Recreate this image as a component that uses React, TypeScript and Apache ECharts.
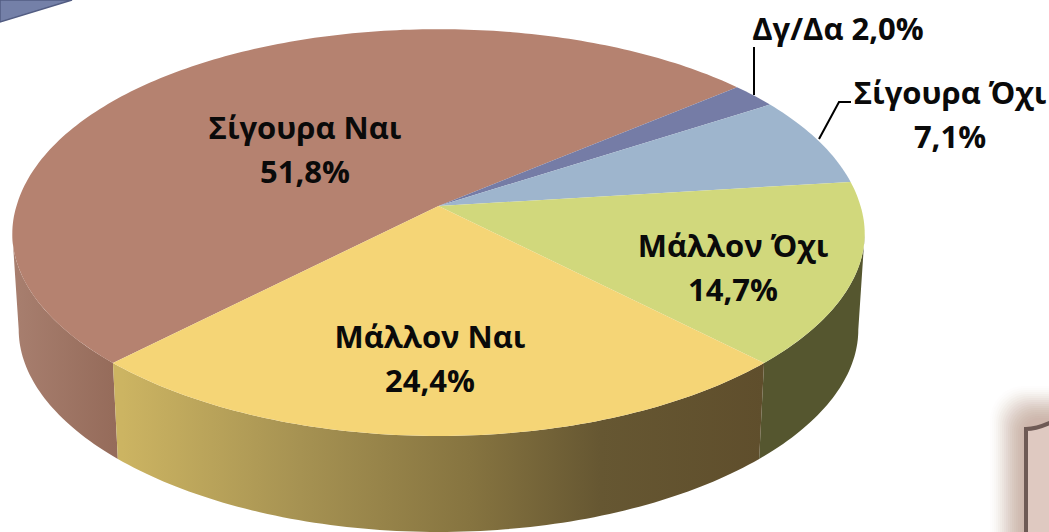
import React, { useEffect, useRef } from "react";
import * as echarts from "echarts";

const categories = ["Σίγουρα Ναι", "Δγ/Δα", "Σίγουρα Όχι", "Μάλλον Όχι", "Μάλλον Ναι"];
const values = [51.8, 2.0, 7.1, 14.7, 24.4];
const valueLabels = ["51,8%", "2,0%", "7,1%", "14,7%", "24,4%"];
const topColors = ["#B58270", "#757CA6", "#9EB5CD", "#D1D87C", "#F5D576"];

// Layout of the perspective disc
const CX = 438.5, CY = 206, A = 422, NEAR_B = 192, FAR_B = 206, KX = 0.14, KY = 0.165, DEPTH = 96, BOTTOM_SCALE = 0.985;
const W = 1049, H = 532;
const START_DEG = 43.92;
const VISIBLE_FROM = 360 - (Math.acos(KX) * 180) / Math.PI;
const VISIBLE_TO = 360 + (Math.acos(KX) * 180) / Math.PI;

const project = (deg: number) => {
  const r = (deg * Math.PI) / 180;
  const u = -Math.sin(r), v = Math.cos(r);
  return [CX + (A * u) / (1 - KX * v), CY + ((v < 0 ? FAR_B : NEAR_B) * v) / (1 - KY * v)];
};
const arcPoints = (a0: number, a1: number) => {
  const n = Math.max(2, Math.ceil(Math.abs(a1 - a0)));
  const pts: number[][] = [];
  for (let i = 0; i <= n; i++) pts.push(project(a0 + ((a1 - a0) * i) / n));
  return pts;
};
const hStops = (stops: [number, string][]) => ({
  type: "linear", x: 0, y: 0, x2: W, y2: 0, global: true,
  colorStops: stops.map(([x, color]) => ({ offset: x / W, color })),
});
const sideColors = [
  hStops([[12, "#A87F6F"], [122, "#946A59"]]),
  "#50556F",
  "#5B6B7C",
  "#55562F",
  hStops([[122, "#CCB462"], [300, "#A69252"], [470, "#867440"], [600, "#665732"], [765, "#5F4E2C"]]),
];
const labelLayout = [
  { x: 305, y: 126.5, two: true },
  { x: 838, y: 28, two: false },
  { x: 950, y: 91.5, two: true },
  { x: 733, y: 244.5, two: true },
  { x: 430, y: 335.5, two: true },
];
const FONT = "'Open Sans', 'Noto Sans', sans-serif";
const BOX_SHADOW_STEPS = Array.from({ length: 17 }, (_, i) => i);

const sliceAngles = () => {
  const total = values.reduce((a, b) => a + b, 0);
  let a = START_DEG;
  return values.map((v) => {
    const s = a;
    a += (v / total) * 360;
    return [s, a];
  });
};

const visibleRange = (a0: number, a1: number) => {
  for (const shift of [0, 360]) {
    const s = Math.max(a0 + shift, VISIBLE_FROM);
    const e = Math.min(a1 + shift, VISIBLE_TO);
    if (e > s) return [s, e];
  }
  return null;
};

echarts.graphic.registerShape(
  "cornerBox",
  echarts.graphic.extendPath("M1026 429 C1033 429 1042 427 1056 420 L1056 545 L1026 545 Z", {})
);

export default function App() {
  const ref = useRef<HTMLDivElement>(null);
  useEffect(() => {
    const chart = echarts.init(ref.current!, undefined, { renderer: "svg" });
    const angles = sliceAngles();
    const sideItem = (_p: any, api: any) => {
      const i = api.value(0);
      const range = visibleRange(angles[i][0], angles[i][1]);
      if (!range) return { type: "group", children: [] };
      const top = arcPoints(range[0], range[1]);
      const bottom = top
        .map(([x, y]) => [CX + (x - CX) * BOTTOM_SCALE, y + DEPTH])
        .reverse();
      return { type: "polygon", shape: { points: [...top, ...bottom] }, style: { fill: sideColors[i] } };
    };
    const topItem = (_p: any, api: any) => {
      const i = api.value(0);
      const [a0, a1] = angles[i];
      return {
        type: "polygon",
        shape: { points: [[CX, CY], ...arcPoints(a0, a1)] },
        style: { fill: topColors[i] },
      };
    };
    const labelItem = (_p: any, api: any) => {
      const i = api.value(0);
      const l = labelLayout[i];
      const base = { textAlign: "center", textVerticalAlign: "middle", fontFamily: FONT, fontWeight: 700, fontSize: 31, fill: "#0a0a0a" };
      const children: any[] = l.two
        ? [
            { type: "text", style: { ...base, x: l.x, y: l.y, text: categories[i] } },
            { type: "text", style: { ...base, x: l.x, y: l.y + 44, text: valueLabels[i] } },
          ]
        : [{ type: "text", style: { ...base, x: l.x, y: l.y, text: `${categories[i]} ${valueLabels[i]}` } }];
      return { type: "group", children };
    };
    const ids = categories.map((_, i) => [i]);
    chart.setOption({
      animation: false,
      backgroundColor: "#ffffff",
      graphic: [
        { type: "polygon", z: 0, shape: { points: [[0, 0], [72, 0], [0, 22]] }, style: { fill: "#7480A8", stroke: "#525C82", lineWidth: 1.5 } },
        ...BOX_SHADOW_STEPS.map((i) => ({
          type: "rect", z: 0,
          shape: { x: 990 + i * 2, y: 386 + i * 2, width: 140, height: 220, r: 34 - i },
          style: { fill: "#C9B0A6", opacity: 0.02 + i * 0.012 },
        })),
        { type: "cornerBox", z: 1, style: { fill: "#DFC9C1", stroke: "#6E5A55", lineWidth: 4 } },
        { type: "line", z: 20, shape: { x1: 754, y1: 47, x2: 754, y2: 95 }, style: { stroke: "#000", lineWidth: 2 } },
        { type: "polyline", z: 20, shape: { points: [[819, 139], [839, 102], [851, 102]] }, style: { stroke: "#000", lineWidth: 2, fill: "none" } },
      ],
      series: [
        { type: "custom", coordinateSystem: "none", z: 5, silent: true, renderItem: sideItem, data: ids },
        { type: "custom", coordinateSystem: "none", z: 6, silent: true, renderItem: topItem, data: ids },
        { type: "custom", coordinateSystem: "none", z: 7, silent: true, renderItem: labelItem, data: ids },
      ],
    });
    return () => chart.dispose();
  }, []);
  return <div ref={ref} style={{ position: "absolute", left: 0, top: 0, width: W, height: H }} />;
}
